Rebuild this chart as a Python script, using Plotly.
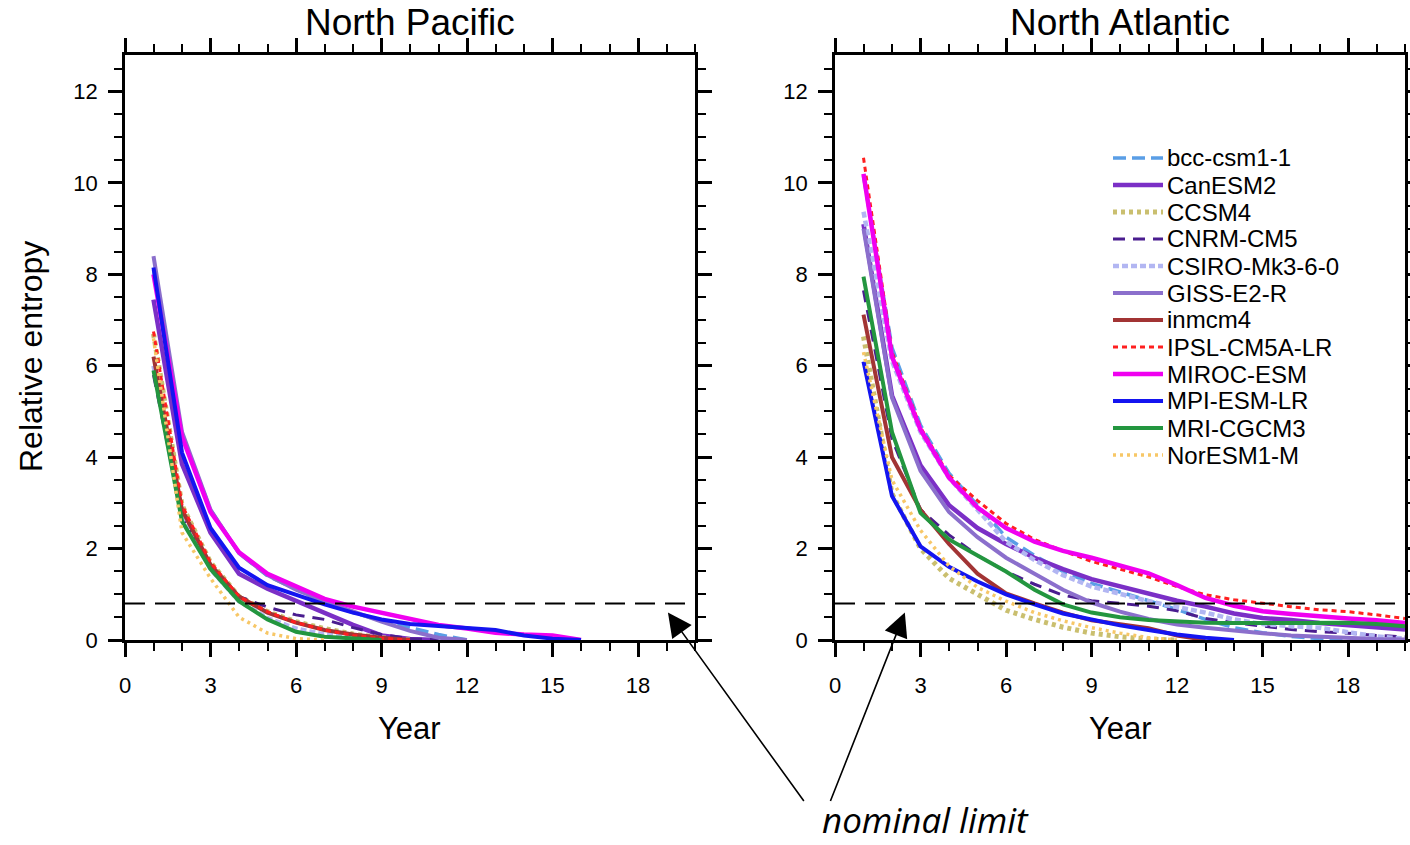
import plotly.graph_objects as go

# ---------------------------------------------------------------
# Relative entropy (predictability) vs lead year, CMIP5 models
# ---------------------------------------------------------------
years = list(range(1, 21))

models = ["bcc-csm1-1", "CanESM2", "CCSM4", "CNRM-CM5", "CSIRO-Mk3-6-0",
          "GISS-E2-R", "inmcm4", "IPSL-CM5A-LR", "MIROC-ESM", "MPI-ESM-LR",
          "MRI-CGCM3", "NorESM1-M"]

# North Pacific (series stop once they reach zero)
np_bcc = [8.1, 4.5, 2.85, 1.9, 1.4, 1.1, 0.82, 0.6, 0.42, 0.27, 0.12, 0.0]
np_canesm2 = [7.45, 3.85, 2.35, 1.45, 1.12, 0.85, 0.58, 0.33, 0.1, 0.02, 0.0]
np_ccsm4 = [6.7, 2.95, 1.7, 0.95, 0.62, 0.4, 0.25, 0.13, 0.05, 0.0]
np_cnrm = [5.8, 2.7, 1.6, 0.95, 0.72, 0.55, 0.45, 0.27, 0.12, 0.03, 0.0]
np_csiro = [6.0, 2.75, 1.55, 0.85, 0.48, 0.25, 0.12, 0.05, 0.0]
np_giss = [8.4, 4.55, 2.85, 1.9, 1.42, 1.1, 0.85, 0.62, 0.4, 0.2, 0.05, 0.0]
np_inmcm4 = [6.2, 2.85, 1.65, 0.95, 0.6, 0.38, 0.22, 0.12, 0.05, 0.0]
np_ipsl = [6.75, 2.95, 1.7, 0.95, 0.62, 0.38, 0.22, 0.1, 0.04, 0.0]
np_miroc = [8.0, 4.45, 2.8, 1.92, 1.45, 1.17, 0.9, 0.73, 0.6, 0.48, 0.33,
            0.25, 0.16, 0.12, 0.1, 0.0]
np_mpi = [8.15, 4.1, 2.45, 1.58, 1.2, 0.98, 0.78, 0.6, 0.45, 0.35, 0.3,
          0.26, 0.22, 0.1, 0.03, 0.0]
np_mri = [5.9, 2.6, 1.55, 0.85, 0.45, 0.18, 0.07, 0.03, 0.0]
np_noresm = [6.6, 2.35, 1.35, 0.5, 0.15, 0.03, 0.0]

# North Atlantic
na_bcc = [10.15, 6.4, 4.7, 3.65, 2.95, 2.25, 1.85, 1.5, 1.24, 1.05, 0.86,
          0.67, 0.45, 0.27, 0.16, 0.08, 0.03, 0.0]
na_canesm2 = [9.1, 5.35, 3.82, 2.95, 2.45, 2.1, 1.8, 1.55, 1.33, 1.17, 1.01,
              0.86, 0.73, 0.58, 0.48, 0.44, 0.37, 0.33, 0.29, 0.23]
na_ccsm4 = [6.64, 3.2, 2.0, 1.35, 1.0, 0.65, 0.45, 0.28, 0.15, 0.07, 0.02, 0.0]
na_cnrm = [7.65, 4.4, 2.85, 2.3, 1.85, 1.5, 1.22, 0.98, 0.86, 0.8, 0.74,
           0.64, 0.47, 0.38, 0.3, 0.23, 0.18, 0.15, 0.1, 0.07]
na_csiro = [9.37, 6.1, 4.55, 3.55, 2.85, 2.15, 1.75, 1.42, 1.17, 1.0, 0.85,
            0.72, 0.6, 0.45, 0.35, 0.3, 0.27, 0.17, 0.08, 0.03]
na_giss = [9.0, 5.3, 3.7, 2.8, 2.25, 1.8, 1.45, 1.1, 0.82, 0.62, 0.46, 0.34,
           0.27, 0.2, 0.15, 0.1, 0.07, 0.04, 0.02, 0.01]
na_inmcm4 = [7.12, 4.0, 2.85, 2.1, 1.45, 1.02, 0.8, 0.6, 0.43, 0.35, 0.26,
             0.1, 0.0]
na_ipsl = [10.55, 6.3, 4.65, 3.6, 3.05, 2.55, 2.2, 1.95, 1.72, 1.55, 1.38,
           1.17, 0.99, 0.88, 0.8, 0.73, 0.66, 0.62, 0.55, 0.47]
na_miroc = [10.2, 6.2, 4.6, 3.55, 2.9, 2.45, 2.15, 1.95, 1.8, 1.63, 1.46,
            1.2, 0.92, 0.75, 0.63, 0.57, 0.51, 0.47, 0.43, 0.37]
na_mpi = [6.09, 3.15, 2.05, 1.6, 1.28, 1.0, 0.78, 0.58, 0.45, 0.32, 0.22,
          0.12, 0.05, 0.0]
na_mri = [7.95, 4.55, 2.78, 2.2, 1.85, 1.5, 1.1, 0.78, 0.6, 0.5, 0.44, 0.4,
          0.38, 0.37, 0.37, 0.37, 0.38, 0.38, 0.35, 0.3]
na_noresm = [6.3, 3.5, 2.4, 1.62, 1.15, 0.85, 0.6, 0.42, 0.27, 0.15, 0.05, 0.0]

nominal_limit = 0.8

pacific = [np_bcc, np_canesm2, np_ccsm4, np_cnrm, np_csiro, np_giss,
           np_inmcm4, np_ipsl, np_miroc, np_mpi, np_mri, np_noresm]
atlantic = [na_bcc, na_canesm2, na_ccsm4, na_cnrm, na_csiro, na_giss,
            na_inmcm4, na_ipsl, na_miroc, na_mpi, na_mri, na_noresm]

# line styles, one per model
colors = ["#5a9ee6", "#7b2fc6", "#cabf6f", "#4a1d8f", "#b2b6f2", "#8b6fcc",
          "#a23434", "#ff1f1f", "#f000f0", "#1414f0", "#23963f", "#f7c767"]
widths = [3.5, 4.5, 5, 3, 4.5, 4, 4, 3, 4.5, 4, 4, 3.5]
dashes = ["13px,6px", "solid", "4px,4px", "12px,8px", "6px,3px", "solid",
          "solid", "5px,4px", "solid", "solid", "solid", "3px,4px"]

W, H = 1410, 845
FONT = "Liberation Sans, Arial, Helvetica, sans-serif"


def fx(p):
    return p / W


def fy(p):
    return 1 - p / H


fig = go.Figure()

for xa, ya, panel in (("x", "y", pacific), ("x2", "y2", atlantic)):
    for i, vals in enumerate(panel):
        fig.add_trace(go.Scatter(
            x=years[:len(vals)], y=vals, mode="lines", name=models[i],
            xaxis=xa, yaxis=ya, showlegend=False,
            line=dict(color=colors[i], width=widths[i], dash=dashes[i]),
        ))

axis_common = dict(
    showline=True, linecolor="black", linewidth=2.5, mirror="allticks",
    ticks="outside", ticklen=14, tickwidth=2.5, tickcolor="black",
    showgrid=False, zeroline=False, fixedrange=True, automargin=False,
    tickfont=dict(family=FONT, size=22, color="black"),
)
xaxis_common = dict(axis_common, range=[0, 20], tick0=0, dtick=3,
                    ticklabelstandoff=10,
                    minor=dict(ticks="outside", ticklen=8, tickwidth=1.5,
                               tickcolor="black", dtick=1, showgrid=False))
yaxis_common = dict(axis_common, range=[0, 12.8], tick0=0, dtick=2,
                    ticklabelstandoff=6,
                    minor=dict(ticks="outside", ticklen=8, tickwidth=1.5,
                               tickcolor="black", dtick=0.5, showgrid=False))

ydom = [fy(640), fy(55)]
fig.update_layout(
    width=W, height=H, autosize=False,
    margin=dict(l=0, r=0, t=0, b=0, pad=0, autoexpand=False),
    paper_bgcolor="white", plot_bgcolor="white",
    showlegend=False,
    xaxis=dict(xaxis_common, domain=[fx(125), fx(695)], anchor="y"),
    yaxis=dict(yaxis_common, domain=ydom, anchor="x"),
    xaxis2=dict(xaxis_common, domain=[fx(835), fx(1405)], anchor="y2"),
    yaxis2=dict(yaxis_common, domain=ydom, anchor="x2"),
)

# nominal limit reference lines
for xr, yr in (("x", "y"), ("x2", "y2")):
    fig.add_shape(type="line", xref=xr, yref=yr, x0=0, x1=20,
                  y0=nominal_limit, y1=nominal_limit,
                  line=dict(color="black", width=2, dash="20px,10px"))

# legend drawn inside the North Atlantic panel
leg_x0, leg_x1, leg_text, leg_top, leg_step = 1113, 1163, 1166, 158, 27
for i, name in enumerate(models):
    yy = leg_top + i * leg_step
    fig.add_shape(type="line", xref="paper", yref="paper",
                  x0=fx(leg_x0), x1=fx(leg_x1), y0=fy(yy), y1=fy(yy),
                  line=dict(color=colors[i], width=widths[i], dash=dashes[i]))
    fig.add_annotation(xref="paper", yref="paper", x=fx(leg_text), y=fy(yy),
                       text=name, showarrow=False, xanchor="left",
                       yanchor="middle", borderpad=0,
                       font=dict(family=FONT, size=24, color="black"))

# titles
for cx, title in ((410, "North Pacific"), (1120, "North Atlantic")):
    fig.add_annotation(xref="paper", yref="paper", x=fx(cx), y=fy(22),
                       text=title, showarrow=False, xanchor="center",
                       yanchor="middle",
                       font=dict(family=FONT, size=37, color="black"))
    fig.add_annotation(xref="paper", yref="paper", x=fx(cx), y=fy(728),
                       text="Year", showarrow=False, xanchor="center",
                       yanchor="middle",
                       font=dict(family=FONT, size=31, color="black"))

fig.add_annotation(xref="paper", yref="paper", x=fx(31), y=fy(357),
                   text="Relative entropy", showarrow=False, textangle=-90,
                   xanchor="center", yanchor="middle",
                   font=dict(family=FONT, size=32, color="black"))

# arrows pointing at the nominal limit in each panel
fig.add_annotation(xref="x", yref="y", x=19.05, y=0.6, text="",
                   showarrow=True, ax=137, ay=190, arrowhead=2,
                   arrowsize=3, arrowwidth=1.6, arrowcolor="black")
fig.add_annotation(xref="x2", yref="y2", x=2.45, y=0.6, text="",
                   showarrow=True, ax=-75, ay=190, arrowhead=2,
                   arrowsize=3, arrowwidth=1.6, arrowcolor="black")
fig.add_annotation(xref="paper", yref="paper", x=fx(926), y=fy(844),
                   text="<i>nominal limit</i>", showarrow=False,
                   xanchor="center", yanchor="bottom", borderpad=0,
                   font=dict(family="Open Sans, Lato, sans-serif", size=35,
                             color="black"))

fig.write_html("out.html")
